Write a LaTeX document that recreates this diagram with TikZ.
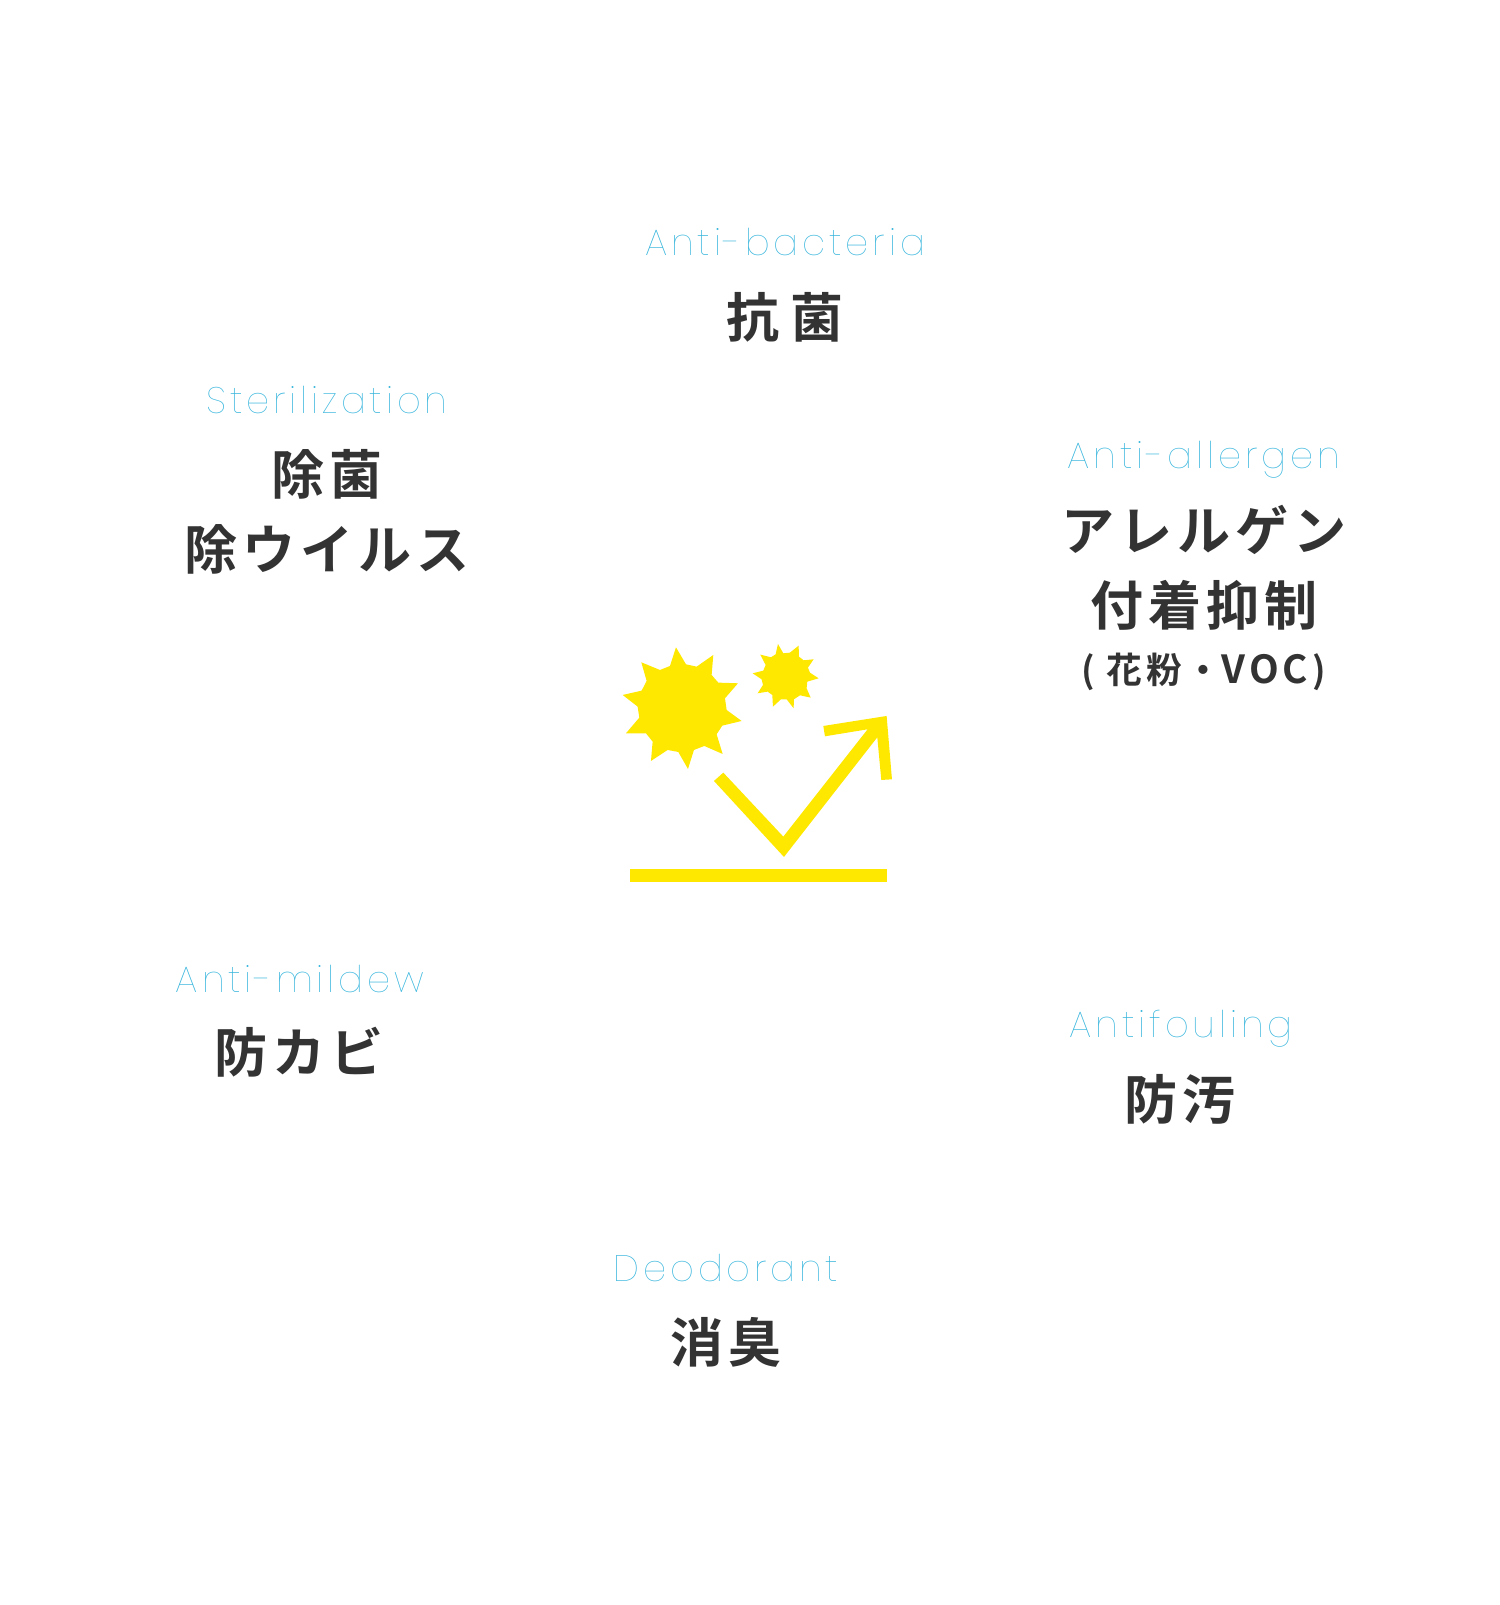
\documentclass[tikz,border=0pt]{standalone}
\usepackage{fontspec}
\usetikzlibrary{positioning}
\newfontfamily\enfont[LetterSpace=10.5]{Poppins Thin}
\newfontfamily\jafont[LetterSpace=9]{Noto Sans CJK JP Bold}
\newfontfamily\jasmall[LetterSpace=10]{Noto Sans CJK JP Bold}
\definecolor{skyline}{HTML}{35B4DC}
\definecolor{inkgray}{HTML}{333333}
\definecolor{iconyellow}{HTML}{FFE800}
\tikzset{
  enlabel/.style={text=skyline,inner sep=0pt,font=\enfont\fontsize{21}{21}\selectfont},
  jalabel/.style={text=inkgray,inner sep=0pt,font=\jafont\fontsize{30.2}{30.2}\selectfont},
  jasub/.style={text=inkgray,inner sep=0pt,font=\jasmall\fontsize{20.4}{20.4}\selectfont},
  iconfill/.style={fill=iconyellow,draw=none}
}
\begin{document}
\begin{tikzpicture}[x=0.02cm,y=-0.02cm]
    \useasboundingbox (0,0) rectangle (1500,1605);
    % labels, top to bottom
    \node[enlabel] (enbacteria) at (785,242) {Anti-bacteria};
    \node[jalabel] (jabacteria) at (785,317) {抗\kern6.5pt 菌};
    \node[enlabel] (ensteril) at (327,400) {Sterilization};
    \node[jalabel] (jasteril) at (327,474) {除菌};
    \node[jalabel] (javirus) at (327,549) {除ウイルス};
    \node[enlabel] (enallergen) at (1204,460) {Anti-allergen};
    \node[jalabel] (jaallergen) at (1204,530) {アレルゲン};
    \node[jalabel] (jaadhesion) at (1204,605) {付着抑制};
    \node[jasub] (japollen) at (1204,672) {( 花粉・{\fontsize{22}{22}\selectfont VOC}\kern2.7pt)};
    \node[enlabel] (enmildew) at (300,979) {Anti-mildew};
    \node[jalabel] (jamildew) at (299,1052) {防カビ};
    \node[enlabel] (enfouling) at (1181,1029) {Antifouling};
    \node[jalabel] (jafouling) at (1180,1099) {防汚};
    \node[enlabel] (endeodor) at (726,1268) {Deodorant};
    \node[jalabel] (jadeodor) at (726,1342) {消臭};
    % icon
    \begin{scope}[x=0.02cm/3,y=-0.02cm/3,shift={(1800,1860)}]
      \fill[iconfill] (228,82)--(258,133)--(290,140)--(340,105)--(335,165)--(355,188)--(414,190)--(375,235)--(380,270)--(425,303)--(367,317)--(350,343)--(368,402)--(313,378)--(282,390)--(264,447)--(235,396)--(203,390)--(153,423)--(158,365)--(138,340)--(78,340)--(118,293)--(113,260)--(68,225)--(125,212)--(140,183)--(124,127)--(180,150)--(210,138)--cycle;
      \fill[iconfill] (534,72)--(550,100)--(570,98)--(596,77)--(597,110)--(611,121)--(641,118)--(624,143)--(630,158)--(656,175)--(622,185)--(620,205)--(632,233)--(600,226)--(582,238)--(581,265)--(560,238)--(543,238)--(519,260)--(517,225)--(503,215)--(473,220)--(489,195)--(485,178)--(458,160)--(490,152)--(497,135)--(481,104)--(513,112)--(527,103)--cycle;
      \fill[iconfill] (342,483)--(370,458)--(550,650)--(803,328)--(675,349)--(670,318)--(860,288)--(876,478)--(844,480)--(832,352)--(552,711)--cycle;
      \fill[iconfill] (90,747) rectangle (861,785);
    \end{scope}
\end{tikzpicture}
\end{document}
